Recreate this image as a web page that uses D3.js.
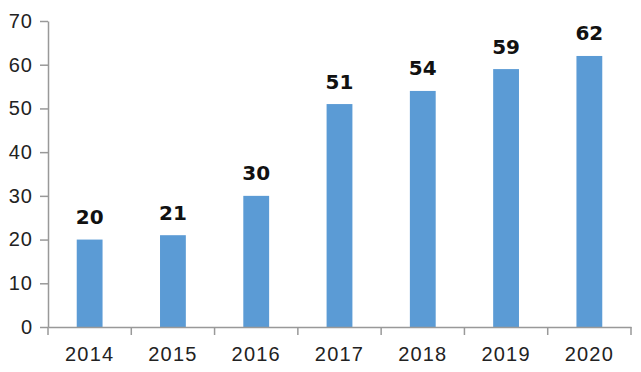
<!DOCTYPE html>
<html><head><meta charset="utf-8">
<script src="https://cdn.jsdelivr.net/npm/d3@7"></script>
<style>body{margin:0;background:#fff}svg{display:block}</style>
</head><body><svg id="c" width="641" height="372"></svg>
<script>
const categories = ["2014","2015","2016","2017","2018","2019","2020"];
const values = [20,21,30,51,54,59,62];
const yTicks = [0,10,20,30,40,50,60,70];

const svg = d3.select("#c");
const m = {l:48, r:10, t:21, b:45};
const x = d3.scaleBand().domain(categories).range([m.l, 631]).paddingInner(0.69).paddingOuter(0.345);
const y = d3.scaleLinear().domain([0,70]).range([327, 21]);

const font = "'Liberation Sans', Arial, sans-serif";

svg.selectAll("rect.bar").data(values).join("rect")
  .attr("x",(d,i)=>x(categories[i])).attr("width",x.bandwidth())
  .attr("y",d=>y(d)).attr("height",d=>y(0)-y(d)).attr("fill","#5b9bd5");

const ya = svg.append("g").attr("transform",`translate(${m.l},0)`)
  .call(d3.axisLeft(y).tickValues(yTicks).tickSize(8).tickPadding(7).tickSizeOuter(0));
ya.select(".domain").attr("stroke","#999").attr("stroke-width",1.5);
ya.selectAll(".tick line").attr("stroke","#999").attr("stroke-width",1.5);
ya.selectAll("text").attr("font-family",font).attr("font-size",20).attr("letter-spacing","1px").attr("fill","#222");

const xb = d3.scaleBand().domain(categories).range([m.l,631]);
const xa = svg.append("g").attr("transform",`translate(0,${y(0)})`)
  .call(d3.axisBottom(xb).tickSize(0).tickPadding(20).tickSizeOuter(0));
xa.select(".domain").attr("stroke","#999").attr("stroke-width",1.5);
xa.selectAll("text").attr("font-family",font).attr("font-size",20).attr("letter-spacing","1.2px").attr("fill","#222");
// boundary tick marks
svg.append("g").selectAll("line").data(categories.concat([null])).join("line")
  .attr("x1",(d,i)=>m.l+i*xb.step()).attr("x2",(d,i)=>m.l+i*xb.step())
  .attr("y1",y(0)).attr("y2",y(0)+8).attr("stroke","#999").attr("stroke-width",1.5);

svg.selectAll("text.val").data(values).join("text").attr("class","val")
  .attr("x",(d,i)=>x(categories[i])+x.bandwidth()/2).attr("y",d=>y(d)-15.5)
  .attr("text-anchor","middle").attr("font-family","'DejaVu Sans', sans-serif").attr("font-weight","bold")
  .attr("font-size",20).attr("fill","#111").text(d=>d);
</script></body></html>
